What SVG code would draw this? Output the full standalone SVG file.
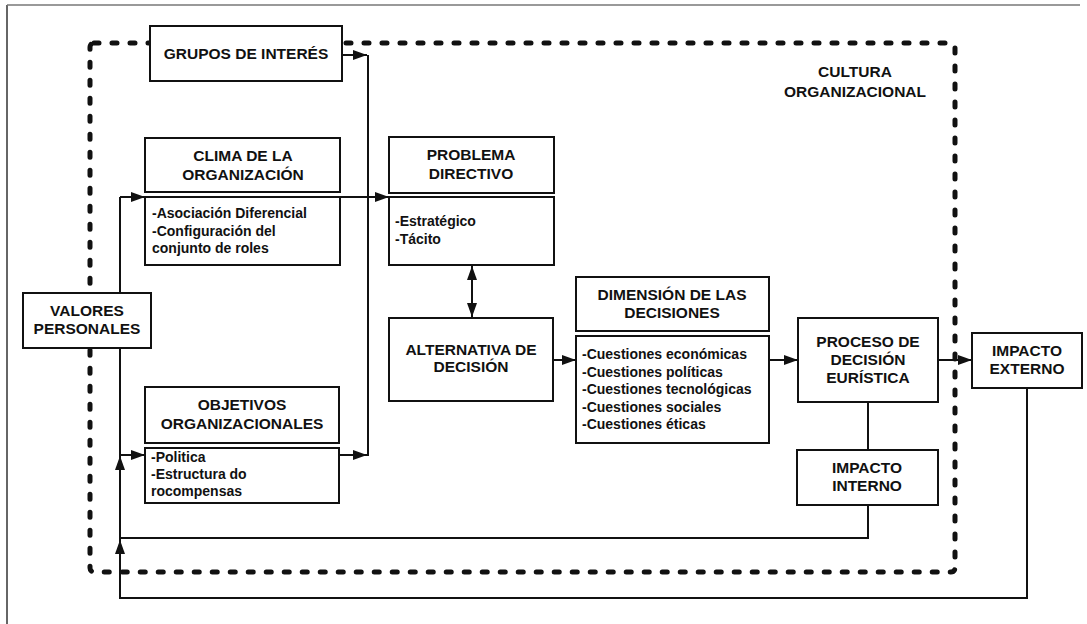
<svg xmlns="http://www.w3.org/2000/svg" width="1087" height="624" viewBox="0 0 1087 624">
<style>
.box{fill:#fff;stroke:#111;stroke-width:2}
.h{font-family:"Liberation Sans",Arial,sans-serif;font-weight:bold;font-size:15.5px;fill:#111;text-anchor:middle}
.l{font-family:"Liberation Sans",Arial,sans-serif;font-weight:bold;font-size:14px;fill:#111}
.c{fill:none;stroke:#111;stroke-width:2}
.dot{fill:none;stroke:#111;stroke-width:5;stroke-dasharray:5 13;stroke-linecap:round}
</style>
<defs>
<marker id="ah" viewBox="0 0 14 10" refX="14" refY="5" markerWidth="14" markerHeight="10" markerUnits="userSpaceOnUse" orient="auto-start-reverse">
<path d="M0,0 L14,5 L0,10 Z" fill="#111"/>
</marker>
</defs>
<rect width="1087" height="624" fill="#fff"/>
<g id="frame">
<line x1="7" y1="5" x2="7" y2="624" stroke="#333" stroke-width="1.5"/>
<line x1="7" y1="5" x2="1080" y2="5" stroke="#777" stroke-width="1.5"/>
<rect class="dot" x="90" y="43" width="865" height="529" rx="4"/>
</g>
<g id="connectors">
<polyline class="c" points="342,55 367,55" marker-end="url(#ah)"/>
<polyline class="c" points="368,55 368,456"/>
<polyline class="c" points="338,455 367,455" marker-end="url(#ah)"/>
<polyline class="c" points="120,197 145,197" marker-end="url(#ah)"/>
<polyline class="c" points="340,197 389,197" marker-end="url(#ah)"/>
<polyline class="c" points="120,197 120,598"/>
<polyline class="c" points="120,455 145,455" marker-end="url(#ah)"/>
<polyline class="c" points="868,505 868,538 120,538 120,456" marker-end="url(#ah)"/>
<polyline class="c" points="1027,388 1027,598 120,598 120,540" marker-end="url(#ah)"/>
<polyline class="c" points="868,402 868,450"/>
<polyline class="c" points="472,266 472,317" marker-start="url(#ah)" marker-end="url(#ah)"/>
<polyline class="c" points="553,360 576,360" marker-end="url(#ah)"/>
<polyline class="c" points="769,360 798,360" marker-end="url(#ah)"/>
<polyline class="c" points="938,360 972,360" marker-end="url(#ah)"/>
</g>
<g id="cultura">
<text class="h" x="855" y="77">CULTURA</text>
<text class="h" x="855" y="97">ORGANIZACIONAL</text>
</g>
<g id="grupos">
<rect class="box" x="150" y="26" width="192" height="55"/>
<text class="h" x="246" y="59">GRUPOS DE INTERÉS</text>
</g>
<g id="clima">
<rect class="box" x="145" y="138" width="195" height="54"/>
<text class="h" x="243" y="161">CLIMA DE LA</text>
<text class="h" x="243" y="180">ORGANIZACIÓN</text>
<rect class="box" x="145" y="197" width="195" height="68"/>
<text class="l" x="152" y="218">-Asociación Diferencial</text>
<text class="l" x="152" y="236">-Configuración del</text>
<text class="l" x="152" y="253">conjunto de roles</text>
</g>
<g id="valores">
<rect class="box" x="23" y="293" width="128" height="55"/>
<text class="h" x="87" y="316">VALORES</text>
<text class="h" x="87" y="334">PERSONALES</text>
</g>
<g id="objetivos">
<rect class="box" x="145" y="387" width="194" height="56"/>
<text class="h" x="242" y="410">OBJETIVOS</text>
<text class="h" x="242" y="429">ORGANIZACIONALES</text>
<rect class="box" x="145" y="448" width="194" height="55" stroke-width="1.5"/>
<text class="l" x="151" y="462">-Politica</text>
<text class="l" x="151" y="479">-Estructura do</text>
<text class="l" x="151" y="496">rocompensas</text>
</g>
<g id="problema">
<rect class="box" x="389" y="137" width="165" height="56"/>
<text class="h" x="471" y="160">PROBLEMA</text>
<text class="h" x="471" y="179">DIRECTIVO</text>
<rect class="box" x="389" y="197" width="165" height="68"/>
<text class="l" x="395" y="226">-Estratégico</text>
<text class="l" x="395" y="244">-Tácito</text>
</g>
<g id="alternativa">
<rect class="box" x="389" y="318" width="164" height="83"/>
<text class="h" x="471" y="355">ALTERNATIVA DE</text>
<text class="h" x="471" y="372">DECISIÓN</text>
</g>
<g id="dimension">
<rect class="box" x="576" y="277" width="193" height="54"/>
<text class="h" x="672" y="300">DIMENSIÓN DE LAS</text>
<text class="h" x="672" y="318">DECISIONES</text>
<rect class="box" x="576" y="336" width="193" height="107"/>
<text class="l" x="582" y="359">-Cuestiones económicas</text>
<text class="l" x="582" y="376.5">-Cuestiones políticas</text>
<text class="l" x="582" y="394">-Cuestiones tecnológicas</text>
<text class="l" x="582" y="411.5">-Cuestiones sociales</text>
<text class="l" x="582" y="429">-Cuestiones éticas</text>
</g>
<g id="proceso">
<rect class="box" x="798" y="318" width="140" height="84"/>
<text class="h" x="868" y="347">PROCESO DE</text>
<text class="h" x="868" y="365">DECISIÓN</text>
<text class="h" x="868" y="383">EURÍSTICA</text>
</g>
<g id="interno">
<rect class="box" x="797" y="450" width="141" height="55"/>
<text class="h" x="867" y="473">IMPACTO</text>
<text class="h" x="867" y="491">INTERNO</text>
</g>
<g id="externo">
<rect class="box" x="972" y="333" width="110" height="55"/>
<text class="h" x="1027" y="356">IMPACTO</text>
<text class="h" x="1027" y="374">EXTERNO</text>
</g>
</svg>
